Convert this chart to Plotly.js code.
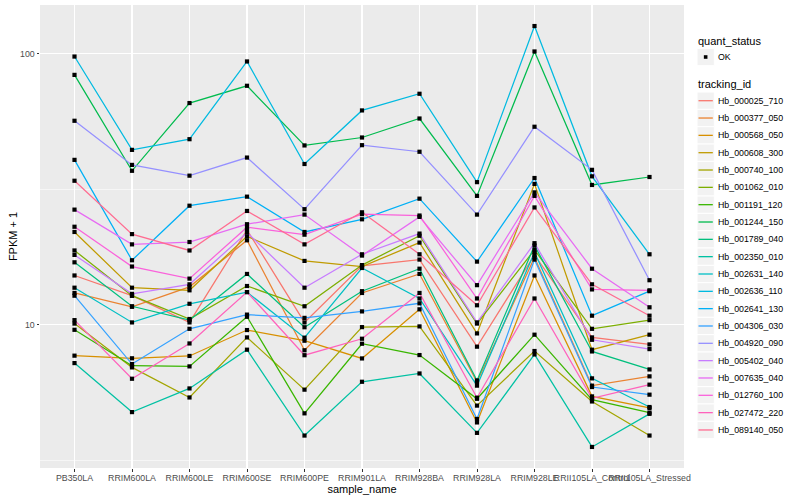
<!DOCTYPE html>
<html>
<head>
<meta charset="utf-8">
<script src="https://cdn.plot.ly/plotly-3.0.1.min.js"></script>
<style>html,body{margin:0;padding:0;background:#fff;}#chart{width:800px;height:500px;}</style>
</head>
<body>
<div id="chart"></div>
<script>
const samples = ["PB350LA","RRIM600LA","RRIM600LE","RRIM600SE","RRIM600PE","RRIM901LA","RRIM928BA","RRIM928LA","RRIM928LE","RRII105LA_Control","RRII105LA_Stressed"];

const trackingIds = ["Hb_000025_710","Hb_000377_050","Hb_000568_050","Hb_000608_300","Hb_000740_100","Hb_001062_010","Hb_001191_120","Hb_001244_150","Hb_001789_040","Hb_002350_010","Hb_002631_140","Hb_002636_110","Hb_002641_130","Hb_004306_030","Hb_004920_090","Hb_005402_040","Hb_007635_040","Hb_012760_100","Hb_027472_220","Hb_089140_050"];

const quantStatus = ["OK"];

const Hb_000025_710 = [15.2, 12.8, 10.2, 22.4, 10.2, 16.5, 17.4, 8.30, 18.1, 8.98, 8.46];
const Hb_000377_050 = [13.1, 11.65, 13.8, 20.5, 8.05, 13.1, 15.4, 6.15, 17.7, 5.96, 6.45];
const Hb_000568_050 = [7.69, 7.52, 7.67, 9.56, 8.73, 7.51, 11.4, 4.36, 15.2, 5.44, 4.93];
const Hb_000608_300 = [22.0, 13.7, 13.4, 21.2, 17.2, 16.4, 20.1, 9.29, 33.1, 8.09, 9.19];
const Hb_000740_100 = [10.1, 6.96, 5.39, 8.98, 5.76, 9.80, 9.86, 5.03, 8.00, 5.21, 3.90];
const Hb_001062_010 = [18.8, 12.8, 10.5, 13.9, 11.7, 16.6, 21.3, 10.1, 18.9, 9.66, 10.4];
const Hb_001191_120 = [9.58, 7.06, 7.02, 10.7, 4.71, 8.51, 7.73, 5.33, 9.19, 5.29, 4.74];
const Hb_001244_150 = [83.6, 37.0, 65.8, 76.2, 45.9, 49.1, 57.7, 29.9, 102.0, 32.8, 35.1];
const Hb_001789_040 = [17.0, 11.7, 10.4, 15.4, 9.79, 13.3, 16.1, 6.23, 19.6, 7.97, 6.84];
const Hb_002350_010 = [7.22, 4.76, 5.82, 8.09, 3.90, 6.16, 6.61, 3.99, 7.77, 3.54, 4.69];
const Hb_002631_140 = [13.7, 10.2, 11.95, 13.2, 8.96, 16.2, 12.5, 5.96, 18.5, 6.34, 4.97];
const Hb_002636_110 = [97.7, 44.2, 48.4, 93.7, 39.2, 61.8, 71.2, 33.6, 126.6, 35.3, 18.2];
const Hb_002641_130 = [40.6, 17.3, 27.5, 29.7, 22.0, 24.5, 29.2, 17.1, 34.8, 10.8, 13.3];
const Hb_004306_030 = [12.8, 7.16, 9.66, 10.9, 10.6, 11.2, 12.0, 4.49, 17.4, 5.89, 5.52];
const Hb_004920_090 = [56.6, 38.9, 35.5, 41.4, 26.7, 46.0, 43.5, 25.5, 53.8, 37.3, 14.6];
const Hb_005402_040 = [18.1, 13.0, 14.1, 21.9, 13.7, 18.2, 21.7, 10.2, 20.0, 8.80, 8.13];
const Hb_007635_040 = [26.6, 19.8, 20.2, 23.5, 25.5, 18.0, 25.0, 14.0, 30.8, 16.1, 11.6];
const Hb_012760_100 = [23.0, 16.4, 14.8, 22.9, 21.5, 25.6, 25.3, 12.5, 29.9, 13.5, 13.4];
const Hb_027472_220 = [10.4, 6.32, 8.53, 13.2, 7.72, 8.88, 13.1, 5.38, 12.5, 5.35, 6.01];
const Hb_089140_050 = [34.0, 21.6, 18.8, 26.3, 19.8, 26.0, 18.2, 11.8, 27.1, 14.1, 10.8];

const seriesValues = [Hb_000025_710, Hb_000377_050, Hb_000568_050, Hb_000608_300, Hb_000740_100, Hb_001062_010, Hb_001191_120, Hb_001244_150, Hb_001789_040, Hb_002350_010, Hb_002631_140, Hb_002636_110, Hb_002641_130, Hb_004306_030, Hb_004920_090, Hb_005402_040, Hb_007635_040, Hb_012760_100, Hb_027472_220, Hb_089140_050];

const colors = ["#F8766D","#EA8331","#D89000","#C09B00","#A3A500","#7CAE00","#39B600","#00BB4E","#00BF7D","#00C1A3","#00BFC4","#00BAE0","#00B0F6","#35A2FF","#9590FF","#C77CFF","#E76BF3","#FA62DB","#FF62BC","#FF6C91"];

const yMajor = [10, 100];
const yMajorText = ["10", "100"];
const yMinor = [3.1623, 31.623];

// ---- traces ----
const traces = [];
traces.push({type:'scatter', x:[], y:[], yaxis:'y2', showlegend:false, hoverinfo:'skip'});
seriesValues.forEach((vals, i) => {
  traces.push({
    type: 'scatter', mode: 'lines', x: samples, y: vals,
    line: {color: colors[i], width: 1.25},
    name: trackingIds[i], showlegend: false
  });
});
seriesValues.forEach((vals, i) => {
  traces.push({
    type: 'scatter', mode: 'markers', x: samples, y: vals,
    marker: {color: '#000000', size: 4.2, symbol: 'square'},
    name: quantStatus[0], showlegend: false, hoverinfo: 'skip'
  });
});

// ---- plot geometry (pixels) ----
const W = 800, H = 500;
const M = {l: 40, r: 116, t: 5, b: 32};
const pw = W - M.l - M.r, ph = H - M.t - M.b;
const px = x => (x - M.l) / pw;
const py = y => (H - M.b - y) / ph;

// ---- ggplot-style legend ----
const shapes = [];
const annotations = [];
const keyL = 697, keyW = 17.3, keyH = 17.3;
const txtX = 716;
function title(text, y) {
  annotations.push({xref:'paper', yref:'paper', x: px(696), y: py(y), xanchor:'left', yanchor:'middle',
    text: text, showarrow:false, font:{size: 11, color:'#000'}});
}
function keyBox(yc) {
  shapes.push({type:'rect', xref:'paper', yref:'paper', x0: px(keyL), x1: px(keyL + keyW),
    y0: py(yc - keyH/2), y1: py(yc + keyH/2), fillcolor:'#F2F2F2', line:{color:'#FFFFFF', width:1}});
}
function label(text, yc) {
  annotations.push({xref:'paper', yref:'paper', x: px(txtX), y: py(yc), xanchor:'left', yanchor:'middle',
    text: text, showarrow:false, font:{size: 8.8, color:'#000'}});
}
title('quant_status', 40.7);
keyBox(57);
shapes.push({type:'rect', xref:'paper', yref:'paper', x0: px(keyL + keyW/2 - 1.8), x1: px(keyL + keyW/2 + 1.8),
  y0: py(57 + 1.8), y1: py(57 - 1.8), fillcolor:'#000', line:{width:0}});
label(quantStatus[0], 57);
title('tracking_id', 84.3);
trackingIds.forEach((id, i) => {
  const yc = 100.7 + 17.33 * i;
  keyBox(yc);
  shapes.push({type:'line', xref:'paper', yref:'paper', x0: px(keyL + 1.5), x1: px(keyL + keyW - 1.5),
    y0: py(yc), y1: py(yc), line:{color: colors[i], width: 1.3}});
  label(id, yc);
});

const yRange = [0.4713, 2.1801];
const layout = {
  width: W, height: H,
  margin: M,
  paper_bgcolor: '#ffffff', plot_bgcolor: '#EBEBEB',
  font: {family: 'Liberation Sans, Arial, sans-serif', color: '#000'},
  showlegend: false,
  xaxis: {
    type: 'category', range: [-0.6, 10.6], categoryorder: 'array', categoryarray: samples,
    showgrid: true, gridcolor: '#FFFFFF', gridwidth: 1.1, zeroline: false, showline: false,
    ticks: 'outside', ticklen: 2.5, tickwidth: 1, tickcolor: '#333333',
    tickfont: {size: 8.8, color: '#4D4D4D'}, ticklabelstandoff: -1,
    tickangle: 0, automargin: false,
    title: {text: 'sample_name', font: {size: 11, color: '#000'}, standoff: 0}
  },
  yaxis: {
    type: 'log', range: yRange, tickvals: yMajor, ticktext: yMajorText,
    showgrid: true, gridcolor: '#FFFFFF', gridwidth: 1.1, zeroline: false, showline: false,
    ticks: 'outside', ticklen: 2.5, tickwidth: 1, tickcolor: '#333333',
    tickfont: {size: 8.8, color: '#4D4D4D'}, automargin: false,
    title: {text: 'FPKM + 1', font: {size: 11, color: '#000'}, standoff: 0}
  },
  yaxis2: {
    type: 'log', range: yRange, overlaying: 'y', tickvals: yMinor, showticklabels: false,
    ticks: '', showgrid: true, gridcolor: '#FFFFFF', gridwidth: 0.55, zeroline: false, showline: false
  },
  shapes: shapes,
  annotations: annotations
};

Plotly.newPlot('chart', traces, layout, {displayModeBar: false, staticPlot: true});
</script>
</body>
</html>
